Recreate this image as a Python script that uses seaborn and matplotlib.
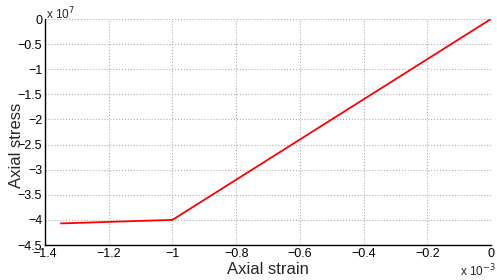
import matplotlib
matplotlib.use("Agg")
import matplotlib.pyplot as plt
import seaborn as sns
import pandas as pd

# Data (strain in 1e-3, stress in 1e7)
strain = [-1.35, -1.0, 0.0]
stress = [-4.07, -4.0, 0.0]
xticks = [-1.4, -1.2, -1.0, -0.8, -0.6, -0.4, -0.2, 0.0]
xticklabels = ["\u22121.4", "\u22121.2", "\u22121", "\u22120.8", "\u22120.6", "\u22120.4", "\u22120.2", "0"]
yticks = [0, -0.5, -1, -1.5, -2, -2.5, -3, -3.5, -4, -4.5]
yticklabels = ["0", "\u22120.5", "\u22121", "\u22121.5", "\u22122", "\u22122.5", "\u22123", "\u22123.5", "\u22124", "\u22124.5"]

sns.set_style("white")
plt.rcParams["font.family"] = ["Liberation Sans", "DejaVu Sans"]

fig = plt.figure(figsize=(4.97, 2.80), dpi=100)
ax = fig.add_axes([45/497, 1-245/280, (491-45)/497, (245-19)/280])

df = pd.DataFrame({"strain": strain, "stress": stress})
sns.lineplot(data=df, x="strain", y="stress", color="red", linewidth=1.3, ax=ax, sort=False)

ax.set_xlim(-1.4, 0)
ax.set_ylim(-4.5, 0)
ax.set_xticks(xticks)
ax.set_xticklabels(xticklabels, fontsize=9)
ax.set_yticks(yticks)
ax.set_yticklabels(yticklabels, fontsize=9)
ax.tick_params(direction="in", length=3, width=0.8, pad=2, colors="black")
ax.grid(True, linestyle=":", color="#b0b0b0", linewidth=0.8)
for s in ["top", "right"]:
    ax.spines[s].set_visible(False)
for s in ["left", "bottom"]:
    ax.spines[s].set_color("black")
    ax.spines[s].set_linewidth(1.0)
ax.set_xlabel("")
ax.set_ylabel("")

fig.text(268/497, 1-270/280, "Axial strain", ha="center", va="center", fontsize=12)
fig.text(17/497, 1-145/280, "Axial stress", ha="center", va="center", rotation=90, fontsize=12)
fig.text(46/497, 1-14/280, r"x 10$^{7}$", ha="left", va="center", fontsize=8.5)
fig.text(460/497, 1-271/280, r"x 10$^{-3}$", ha="left", va="center", fontsize=8.5)

fig.savefig("out.png", dpi=100)
